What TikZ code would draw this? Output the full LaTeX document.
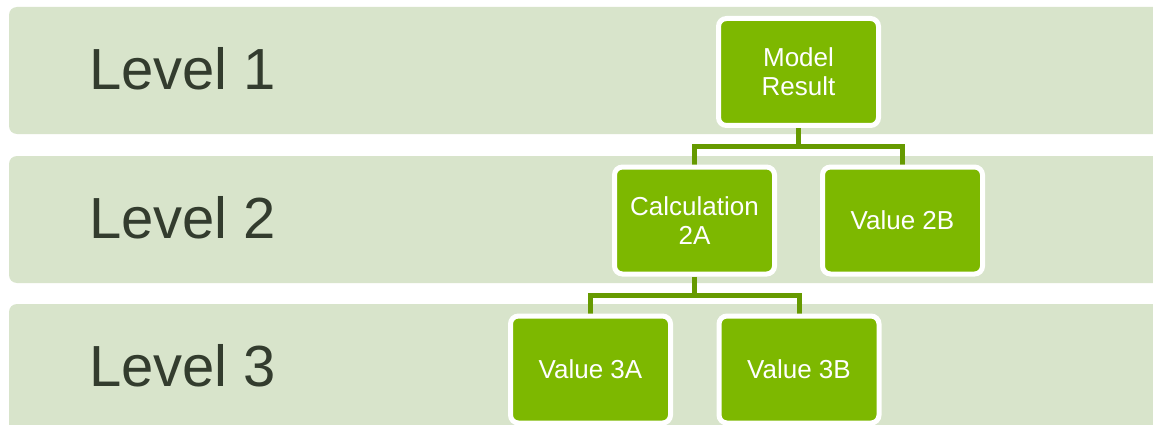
\documentclass[tikz,border=0pt]{standalone}
\usepackage{fontspec}
\setmainfont{Liberation Sans}
\usetikzlibrary{backgrounds}
\definecolor{bandgreen}{HTML}{D8E4CB}
\definecolor{boxgreen}{HTML}{7DB800}
\definecolor{linkgreen}{HTML}{669A00}
\definecolor{labeltext}{HTML}{333C2E}
\pgfdeclarelayer{links}
\pgfsetlayers{background,links,main}
\tikzset{
  band/.style={fill=bandgreen, rounded corners=8pt},
  levellabel/.style={anchor=base west, inner sep=0pt, text=labeltext,
    font=\fontsize{58}{70}\selectfont},
  treebox/.style={rectangle, fill=boxgreen, draw=white, line width=5pt,
    rounded corners=8pt, minimum width=160pt, minimum height=107pt,
    text=white, align=center, inner sep=2pt,
    font=\fontsize{26}{29}\selectfont},
  link/.style={draw=linkgreen, line width=5pt}
}
\begin{document}
\begin{tikzpicture}[x=1pt, y=-1pt]
  \useasboundingbox (0,0) rectangle (1153,425);

  % page ground and the horizontal level bands
  \begin{pgfonlayer}{background}
    \begin{scope}
      \clip (0,0) rectangle (1153,425);
      \fill[white] (0,0) rectangle (1153,425);
      \fill[band] (9,7) rectangle (1170,134);
      \fill[band] (9,156) rectangle (1170,283);
      \fill[band] (9,304) rectangle (1170,440);
    \end{scope}
  \end{pgfonlayer}

  % level captions
  \node[levellabel] (lvl1) at (89,90) {Level 1};
  \node[levellabel] (lvl2) at (89,238) {Level 2};
  \node[levellabel] (lvl3) at (89,386) {Level 3};

  % tree boxes
  \node[treebox] (mr)  at (798.5,72)    {Model\\Result};
  \node[treebox] (c2a) at (694.5,220.5) {Calculation\\2A};
  \node[treebox] (v2b) at (902.5,220.5) {Value 2B};
  \node[treebox] (v3a) at (590.5,369.5) {Value 3A};
  \node[treebox] (v3b) at (799,369.5)   {Value 3B};

  % bus heights of the connectors
  \coordinate (bus1) at (0,146);
  \coordinate (bus2) at (0,295);

  \begin{pgfonlayer}{links}
    \draw[link] (mr.south) -- (mr.south |- bus1) -| (c2a.north);
    \draw[link] (mr.south |- bus1) -| (v2b.north);
    \draw[link] (c2a.south) -- (c2a.south |- bus2) -| (v3a.north);
    \draw[link] (c2a.south |- bus2) -| (v3b.north);
  \end{pgfonlayer}
\end{tikzpicture}
\end{document}
